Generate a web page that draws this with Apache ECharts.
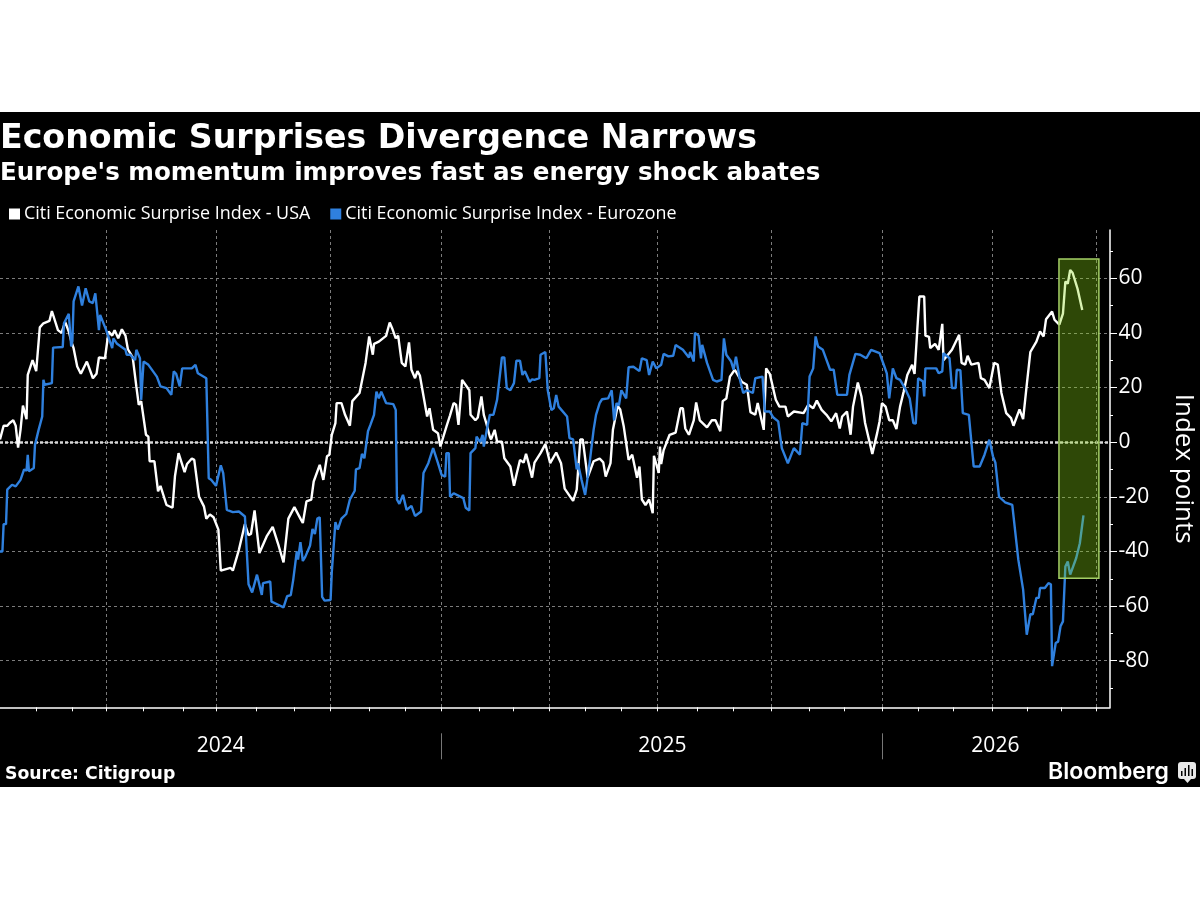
<!DOCTYPE html>
<html>
<head>
<meta charset="utf-8">
<style>html,body{margin:0;padding:0;background:#fff}#chart{width:1200px;height:900px}</style>
<script src="https://cdn.jsdelivr.net/npm/echarts@6/dist/echarts.min.js"></script>
</head>
<body>
<div id="chart"></div>
<script>
// The x axis is a plain value axis in days counted from 1 January 2024.
const usaDays = [0,1,3,6,8,11,13,15,17,19,22,23,27,30,33,36,41,43,48,51,54,57,59,61,64,67,72,77,80,82,87,90,93,95,98,101,104,106,110,113,115,117,121,123,124,128,131,133,138,143,145,148,149,153,155,159,161,165,169,171,174,177,181,183,191,193,198,203,206,208,211,215,221,226,231,235,239,244,249,
251,254,258,260,265,268,271,273,275,278,279,283,286,290,292,298,301,303,306,309,310,314,320,323,325,328,330,333,336,339,341,344,346,348,354,356,359,363,365,370,373,376,378,380,383,389,390,394,396,399,401,403,406,407,410,412,416,418,423,426,428,431,434,436,438,441,443,448,452,456,461,465,468,475,478,481,483,487,492,497,
500,502,506,508,512,514,517,521,524,528,530,532,535,538,541,542,546,547,548,550,555,560,564,566,568,571,575,577,580,586,590,593,597,599,602,605,609,615,619,622,626,628,633,635,638,643,646,651,653,658,666,670,674,677,681,685,689,693,696,698,702,705,707,711,714,717,723,727,729,
731,734,737,740,743,746,749,752,756,758,762,766,767,770,771,775,778,781,782,789,795,797,800,802,805,811,813,816,820,824,827,830,834,838,840,845,848,851,854,859,862,865,867,872,874,878,881,883,885,887,889,893,894,897];
const usaValues = [1,1,6,6,7,8,6,-2,4.5,13.4,8.4,24.6,30,26,42,43.5,44.4,48,41,40,44,40.5,37,34.4,27.7,25,29.5,23.4,25,31,30.7,40.5,39,41,38,41.3,39,34,31,20.4,13.7,15,2.7,2,-7,-7,-18,-16,-23,-24,-12.5,-4,-3.8,-11,-8,-6,-6.5,-20,-23.5,-28,-26.5,-27.5,-32,-47,-46,-47,-39.4,-30,-34,-33.6,-25,-40.6,-34.5,-31,-38,-44,-28,-23.8,-28,
-29.6,-21.7,-21,-14.4,-8.3,-13.8,-5.2,-4.6,2.7,7,14.3,14.3,10,6,15,18,24.6,29,38.7,32,36,36.8,38.9,43.8,41.7,38,39,29,27.7,36.5,26.5,23.4,26,24.4,9.4,12.4,4.5,3.3,-1.6,5.7,9.8,14.3,13.7,6.3,22.8,19,10,8,9,16.7,10,7,2,1,4.5,0.2,0.2,-5.9,-8.9,-16,-12,-6.5,-7.5,-4.3,-7.5,-13,-7.5,-4,-0.7,-7.7,-3.8,-7.7,-17,-21.5,-17.4,1,1,-13,-7,-6,
-7.4,-12.6,-7.7,4.5,13.3,12,5.7,-6.5,-4.6,-13,-8.9,-21,-23,-21,-26,-5,-11.3,-1.6,-8,-3,2.7,3.5,12.4,12.4,5,2.7,8,14.5,8,5.4,8,8,4,15,16,24,26.5,22,21,11,10,14.3,4.5,27,25,15.5,13,13,9.4,11.2,10.6,13.7,12.4,15.2,11.8,10,7.6,10.6,5,9.4,11.2,2.7,13,21.8,16.7,7,-4.3,3.3,7.6,
14.3,13,8,8,4.8,13,18.5,24.6,28.3,25,53.3,53.3,39,38.5,34.4,36,33.8,43.3,30,33.8,39.3,29,28.4,31.6,28.4,29,23.4,22.8,19.8,29,28.4,18,10.6,8.8,6,12,8.4,21,33,36.8,40.5,38.7,45,47.8,44.8,43,47,58.8,58,63,62,56.3,55.6,48.4];

const eurozoneDays = [0,2,3,5,6,10,13,17,20,22,23,24,28,29,32,35,36,37,43,44,52,53,57,59,60,61,65,68,71,74,77,79,80,82,83,88,93,94,97,104,105,108,112,113,116,117,119,123,130,133,138,142,144,146,149,151,159,162,164,171,173,175,179,183,185,188,193,198,203,206,209,213,217,218,
224,225,231,235,238,241,243,244,246,247,249,251,253,257,259,261,263,265,267,269,274,275,278,280,283,287,290,294,
295,298,300,302,305,307,310,312,314,316,320,326,328,329,331,334,337,341,344,349,351,355,359,363,366,369,370,372,373,376,384,386,389,390,394,395,398,400,401,404,406,409,412,416,418,420,423,426,428,431,433,435,439,441,443,447,448,452,454,457,459,461,463,470,472,475,478,479,482,485,487,489,492,494,497,
499,504,507,509,511,513,515,519,521,525,530,532,536,538,541,544,548,550,554,558,560,566,571,572,575,576,579,581,582,586,591,594,598,600,602,606,608,610,613,616,619,624,626,632,634,638,641,645,648,653,658,663,665,669,671,674,676,678,682,688,691,694,702,704,709,713,718,722,729,
733,735,737,740,743,746,750,754,757,759,761,765,766,767,776,778,781,782,787,789,792,793,796,798,803,807,812,816,820,823,825,828,833,839,844,848,851,852,854,856,859,861,862,866,869,871,872,875,877,879,881,883,885,887,892,895,898];
const eurozoneValues = [-40,-40,-30,-30,-17.4,-15.6,-16.2,-13.8,-10,-10.4,-4.6,-10.7,-9.5,-1,4.5,9.4,22.8,21,21.6,34.6,34.8,43.5,47,35,37,51.5,57,50,56.3,51.5,50.9,54.5,54,41,46.6,41,34.4,38,36,33.8,32,32,30,33.8,30.7,15.5,29.5,28.3,24,20.4,19.8,17.3,25.9,25,20.4,27,27,28.3,25.2,23.4,-13.2,-13.8,-16,-8.5,-11.3,-24.8,-25.6,-25.4,-27.2,-52,-55,-48.5,-55.9,-51.6,
-51,-58.4,-59.6,-60.5,-56.4,-56,-50.5,-50.5,-40,-43,-36.6,-43.5,-42,-37.8,-31.8,-33.6,-28,-27.5,-56.6,-58,-57.8,-47.5,-29.3,-32,-28,-26.3,-21,-17.8,
-10,-9.5,-4.3,-5.9,4,6.3,10,18.5,16,18.5,14.3,13.9,11.8,-21,-22.6,-19.3,-24.8,-23.3,-27,-25.4,-11.3,-7.7,-2.2,-7.7,-12,-12.6,-4,-4,-20,-18.7,-20.5,-24,-25,-4,-2.2,2,0,2.7,-1.6,5.7,10,10,15.5,31,31,19.8,19,21.6,29.8,29.8,24.6,26,22,23,22.8,23.4,32,33,19,11.8,12.4,17.3,13,9.4,1.5,1,-10,-7.7,-13.8,-19.3,-13,-6.5,4.5,10,14.3,
15.7,16,19,8,14.3,13.5,19,16,27.4,27.6,26,30.7,30,24.6,29.5,27,28.3,32.3,31.4,31.6,35.6,33.8,31,33,29.5,40,39,30.7,35.6,29,22.8,22.2,22.8,38,32,29.5,26.5,31.3,23.4,18,19,18,23.4,24,11.2,11.2,9,7.6,-2.2,-7.7,-2.2,-4.6,7,6.3,24,27,38.7,35,33.8,26.5,26.5,17.3,17.3,24.6,32.3,32,30.7,33.8,32.6,
27.7,25.2,16,27,23.4,22.8,19.8,16,7,6.8,23.4,22.2,16.7,27,27,25.2,25.9,32.6,30.7,19.8,19.8,26.5,26.3,10.6,10,-8.9,-8.9,-4.6,0.9,-5.2,-7.5,-19.9,-22,-23,-43,-54,-70.5,-70.5,-63,-63,-57,-57,-53.4,-53.4,-51.6,-52,-82,-73.5,-73,-67.4,-65.6,-45.5,-43.7,-48.5,-42.4,-37,-26.8];

const monthTickDays = [30,60,88,119,152,179,212,244,273.5,306,336,365.5,397,425,455,485,515,545,578,607.5,639,671,700,731,761,790,822,851,880,909];
const quarterGridDays = [88,179,273.5,365.5,455,545,639,731,822,909];
const yearBoundaryDays = [365.5,731];
const yearLabelDays = [183,549,825];
const majorTicks = [-80,-60,-40,-20,0,20,40,60];
const minorTicks = [-90,-70,-50,-30,-10,10,30,50,70];
const highlightBox = {fromDay: 877.7, toDay: 910.8, top: 67, bottom: -49.8};

const titleText = 'Economic Surprises Divergence Narrows';
const subtitleText = "Europe's momentum improves fast as energy shock abates";
const sourceText = 'Source: Citigroup';
const usaName = 'Citi Economic Surprise Index - USA';
const eurozoneName = 'Citi Economic Surprise Index - Eurozone';

const START = Date.UTC(2024, 0, 1);
const DAY = 86400000;
const pairs = (days, vals) => days.map((d, i) => [d, vals[i]]);

const X_MIN = 0, X_MAX = 920;
const Y_MIN = -97.05, Y_MAX = 77.65;
const LABEL_FONT = '"Open Sans", sans-serif';
const HEAD_FONT = '"DejaVu Sans", sans-serif';
const BLUE = '#2f80de';
const GRID = {color: '#7c7c7c', width: 1, type: [3, 3]};

const baseX = {type: 'value', min: X_MIN, max: X_MAX, position: 'bottom'};
const baseY = {type: 'value', min: Y_MIN, max: Y_MAX, position: 'right'};

const chart = echarts.init(document.getElementById('chart'), null, {renderer: 'canvas'});
chart.setOption({
  animation: false,
  backgroundColor: '#fff',
  title: [
    {text: titleText, left: 0, top: 122.5, padding: 0, textStyle: {fontFamily: HEAD_FONT, fontWeight: 'bold', fontSize: 33.2, color: '#fff'}},
    {text: subtitleText, left: 0, top: 161, padding: 0, textStyle: {fontFamily: HEAD_FONT, fontWeight: 'bold', fontSize: 24.6, color: '#fff'}},
    {text: sourceText, left: 5, top: 766, padding: 0, textStyle: {fontFamily: HEAD_FONT, fontWeight: 'bold', fontSize: 17.3, color: '#fff'}}
  ],
  legend: {
    left: 9, top: 205, padding: 0, itemGap: 20, itemWidth: 11, itemHeight: 11, icon: 'rect',
    data: [usaName, eurozoneName],
    textStyle: {fontFamily: LABEL_FONT, fontSize: 17.9, color: '#fff', padding: [0, 0, 0, -1]}
  },
  grid: {left: 0, right: 90, top: 230, bottom: 192.7, containLabel: false, outerBoundsMode: 'none'},
  xAxis: [
    Object.assign({}, baseX, {
      axisLine: {show: true, onZero: false, lineStyle: {color: '#fff', width: 1.5}},
      axisTick: {show: true, length: 4, customValues: monthTickDays, lineStyle: {color: '#fff', width: 1}},
      axisLabel: {show: false}, splitLine: {show: false}
    }),
    Object.assign({}, baseX, {
      axisLine: {show: false, onZero: false},
      axisTick: {show: false, customValues: quarterGridDays},
      axisLabel: {show: false}, splitLine: {show: true, lineStyle: GRID}
    }),
    Object.assign({}, baseX, {
      offset: 26,
      axisLine: {show: false, onZero: false},
      axisTick: {show: true, length: 26, customValues: yearBoundaryDays, lineStyle: {color: '#777', width: 1}},
      axisLabel: {
        show: true, margin: 2, customValues: yearLabelDays,
        fontFamily: LABEL_FONT, fontSize: 21, color: '#fff',
        formatter: v => String(new Date(START + v * DAY).getUTCFullYear())
      },
      splitLine: {show: false}
    })
  ],
  yAxis: [
    Object.assign({}, baseY, {
      name: 'Index points', nameLocation: 'middle', nameRotate: -90, nameGap: 60,
      nameTextStyle: {fontFamily: LABEL_FONT, fontSize: 26, color: '#fff'},
      axisLine: {show: true, onZero: false, lineStyle: {color: '#fff', width: 1.5}},
      axisTick: {show: true, length: 7, customValues: majorTicks, lineStyle: {color: '#fff', width: 1}},
      axisLabel: {show: true, margin: 8.5, padding: [3, 0, 0, 0], customValues: majorTicks, fontFamily: LABEL_FONT, fontSize: 21, color: '#fff'},
      splitLine: {show: true, lineStyle: GRID}
    }),
    Object.assign({}, baseY, {
      axisLine: {show: false, onZero: false},
      axisTick: {show: true, length: 3, customValues: minorTicks, lineStyle: {color: '#fff', width: 1}},
      axisLabel: {show: false}, splitLine: {show: false}
    }),
    Object.assign({}, baseY, {
      axisLine: {show: false, onZero: false},
      axisTick: {show: false, customValues: [0]},
      axisLabel: {show: false},
      splitLine: {show: true, lineStyle: {color: '#d8d8d8', width: 2.5, type: [3, 2]}}
    })
  ],
  series: [
    {
      name: usaName, type: 'line', xAxisIndex: 0, yAxisIndex: 0, z: 4,
      data: pairs(usaDays, usaValues), showSymbol: false, symbol: 'none',
      itemStyle: {color: '#fff'}, lineStyle: {color: '#fff', width: 2.4}, silent: true
    },
    {
      name: eurozoneName, type: 'line', xAxisIndex: 0, yAxisIndex: 0, z: 5,
      data: pairs(eurozoneDays, eurozoneValues), showSymbol: false, symbol: 'none',
      itemStyle: {color: BLUE}, lineStyle: {color: BLUE, width: 2.4}, silent: true
    },
    {
      // Translucent highlight over the most recent stretch of both lines.
      type: 'custom', xAxisIndex: 0, yAxisIndex: 0, z: 6, silent: true,
      data: [[highlightBox.fromDay, highlightBox.top, highlightBox.toDay, highlightBox.bottom]],
      encode: {x: [0, 2], y: [1, 3]},
      renderItem: (params, api) => {
        const a = api.coord([api.value(0), api.value(1)]);
        const b = api.coord([api.value(2), api.value(3)]);
        return {
          type: 'rect',
          shape: {x: a[0], y: a[1], width: b[0] - a[0], height: b[1] - a[1]},
          style: {fill: 'rgba(140,220,20,0.33)', stroke: '#a4cf66', lineWidth: 1.5}
        };
      }
    }
  ],
  graphic: [
    {type: 'rect', z: -10, silent: true, shape: {x: 0, y: 112, width: 1200, height: 675}, style: {fill: '#000'}},
    {type: 'text', z: 10, silent: true, x: 1048, y: 761, style: {text: 'Bloomberg', fill: '#fff', fontFamily: '"Inter", sans-serif', fontWeight: 600, fontSize: 23}},
    {type: 'rect', z: 10, silent: true, shape: {x: 1178, y: 762, width: 18, height: 17, r: 3}, style: {fill: '#e8e8e8'}},
    {type: 'polygon', z: 10, silent: true, shape: {points: [[1184, 779], [1191, 779], [1187.5, 783]]}, style: {fill: '#e8e8e8'}},
    {type: 'rect', z: 11, silent: true, shape: {x: 1181, y: 771, width: 1.5, height: 5}, style: {fill: '#000'}},
    {type: 'rect', z: 11, silent: true, shape: {x: 1184.5, y: 768, width: 1.5, height: 8}, style: {fill: '#000'}},
    {type: 'rect', z: 11, silent: true, shape: {x: 1188, y: 765, width: 1.5, height: 11}, style: {fill: '#000'}},
    {type: 'rect', z: 11, silent: true, shape: {x: 1191.5, y: 769, width: 1.5, height: 7}, style: {fill: '#000'}}
  ]
});
</script>
</body>
</html>
